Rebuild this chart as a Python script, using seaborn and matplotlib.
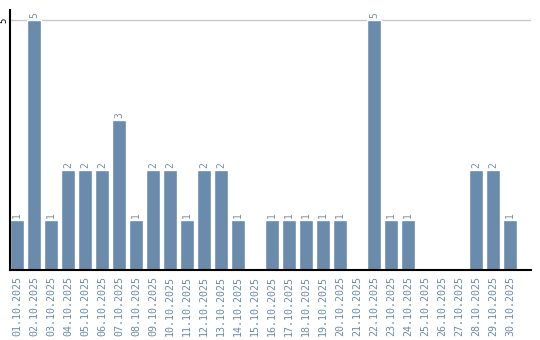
import matplotlib
matplotlib.use("Agg")
import matplotlib.pyplot as plt
import seaborn as sns
import pandas as pd

dates = [f"{d:02d}.10.2025" for d in range(1, 31)]
values = [1, 5, 1, 2, 2, 2, 3, 1, 2, 2, 1, 2, 2, 1, 0, 1, 1, 1, 1, 1, 0, 5, 1, 1, 0, 0, 0, 2, 2, 1]

df = pd.DataFrame({"date": dates, "value": values})

sns.set_style("white")
fig = plt.figure(figsize=(5.4, 3.4), dpi=100)
ax = fig.add_axes([10/540, 70/340, 521/540, 260/340])
color = "#6a8bab"
sns.barplot(data=df, x="date", y="value", color=color, width=0.82, ax=ax, saturation=1)

for i, v in enumerate(values):
    if v > 0:
        ax.text(i, v + 0.05, str(v), rotation=90, ha="center", va="bottom",
                fontsize=7, color="#7a8fa6", family="DejaVu Sans Mono")

ax.set_xlim(-0.41, 30.24)
ax.set_ylim(0, 5.2)
ax.set_yticks([5])
ax.set_yticklabels(["5"], rotation=90, va="center", fontsize=6.5, family="DejaVu Sans Mono",
                   color="black")
ax.tick_params(axis="y", length=0, pad=1)
ax.axhline(5, color="#c8c8c8", lw=1, zorder=0, xmax=0.998)
ax.set_xticks(range(len(dates)))
ax.set_xticklabels(dates, rotation=90, fontsize=7.2, color="#6a8bab", family="DejaVu Sans Mono")
ax.tick_params(axis="x", length=0, pad=4)
ax.set_xlabel("")
ax.set_ylabel("")
for s in ["top", "right"]:
    ax.spines[s].set_visible(False)
for s in ["left", "bottom"]:
    ax.spines[s].set_color("black")
    ax.spines[s].set_linewidth(1.5)
fig.savefig("out.png", dpi=100)
